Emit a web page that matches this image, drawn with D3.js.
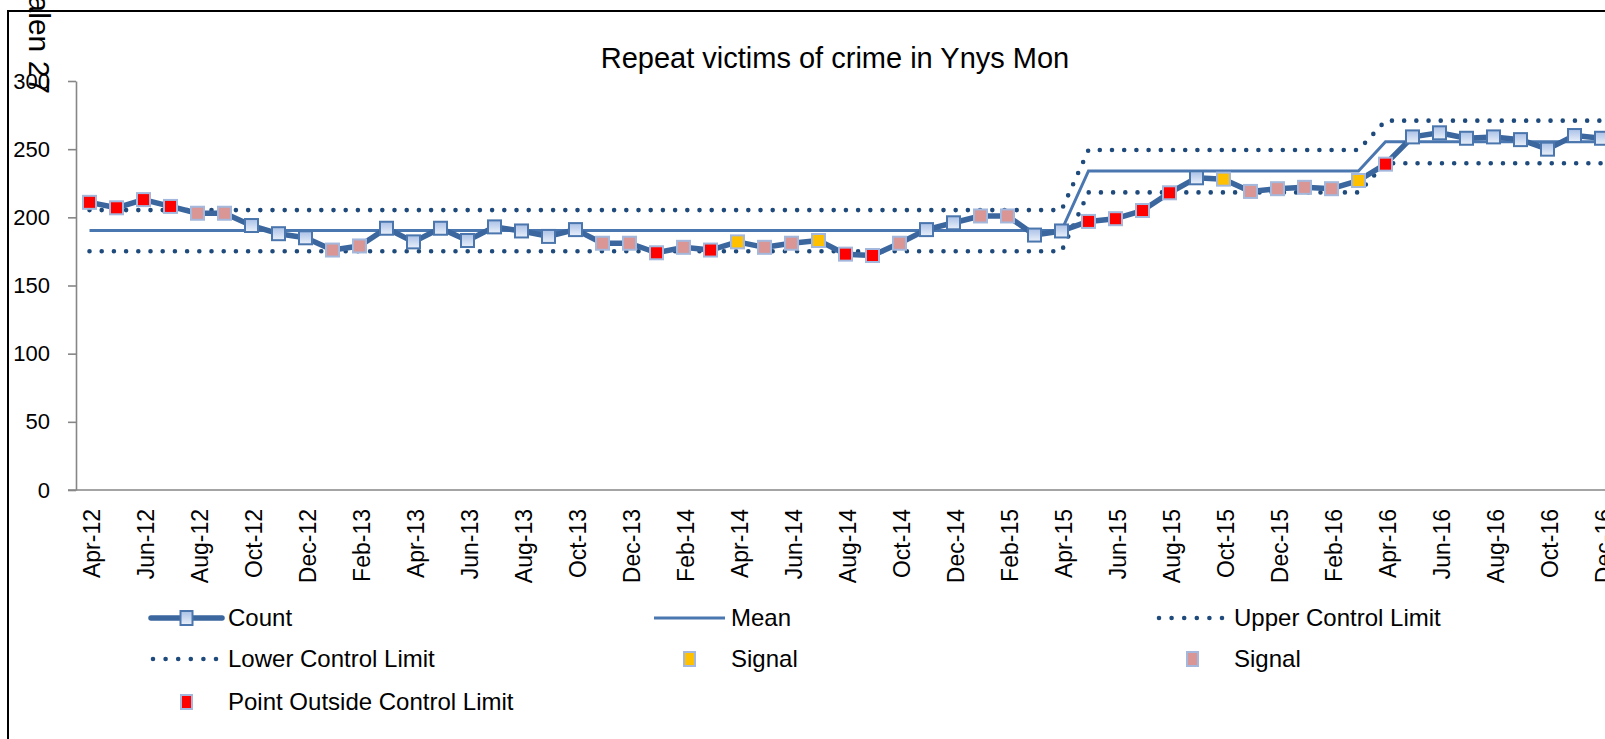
<!DOCTYPE html>
<html>
<head>
<meta charset="utf-8">
<script src="https://cdn.jsdelivr.net/npm/d3@7"></script>
<style>
  body { margin: 0; background: #fff; overflow: hidden; }
  text { font-family: "Liberation Sans", Arial, sans-serif; fill: #000; }
</style>
</head>
<body>
<div id="chart"></div>
<script>
// Monthly categories
const months = ["Apr-12","May-12","Jun-12","Jul-12","Aug-12","Sep-12","Oct-12","Nov-12","Dec-12",
  "Jan-13","Feb-13","Mar-13","Apr-13","May-13","Jun-13","Jul-13","Aug-13","Sep-13","Oct-13","Nov-13","Dec-13",
  "Jan-14","Feb-14","Mar-14","Apr-14","May-14","Jun-14","Jul-14","Aug-14","Sep-14","Oct-14","Nov-14","Dec-14",
  "Jan-15","Feb-15","Mar-15","Apr-15","May-15","Jun-15","Jul-15","Aug-15","Sep-15","Oct-15","Nov-15","Dec-15",
  "Jan-16","Feb-16","Mar-16","Apr-16","May-16","Jun-16","Jul-16","Aug-16","Sep-16","Oct-16","Nov-16","Dec-16"];

// Count of repeat victims
const counts = [211,207,213,208,203,203,194,188,185,
  176,179,192,182,192,183,193,190,186,191,181,181,
  174,178,176,182,178,181,183,173,172,181,191,196,
  201,201,187,190,197,199,205,218,229,228,219,221,
  222,221,227,239,259,262,258,259,257,250,260,258];

// N = normal, R = point outside control limit, Y = signal (yellow), P = signal (pink)
const flags = ["R","R","R","R","P","P","N","N","N",
  "P","P","N","N","N","N","N","N","N","N","P","P",
  "R","P","R","Y","P","P","Y","R","R","P","N","N",
  "P","P","N","N","R","R","R","R","N","Y","P","P",
  "P","P","Y","R","N","N","N","N","N","N","N","N"];

// Control chart phases (index where each phase starts)
const phaseStart = [0, 37, 48];
const phaseMean  = [190.3, 234, 255.5];
const phaseUcl   = [205.3, 249.4, 270.9];
const phaseLcl   = [175.1, 218.3, 239.7];

const yTicks = [0, 50, 100, 150, 200, 250, 300];

const legendItems = [
  {type: "count", label: "Count"},
  {type: "mean", label: "Mean"},
  {type: "ucl", label: "Upper Control Limit"},
  {type: "lcl", label: "Lower Control Limit"},
  {type: "Y", label: "Signal"},
  {type: "P", label: "Signal"},
  {type: "R", label: "Point Outside Control Limit"}
];

const flagColor = {R: "#FF0000", Y: "#FFC000", P: "#D99694"};

const W = 1605, H = 739;
const margin = {left: 76, top: 81, bottom: 490};
const step = 27;

const svg = d3.select("#chart").append("svg")
    .attr("width", W)
    .attr("height", H);

const defs = svg.append("defs");
const grad = defs.append("linearGradient")
    .attr("id", "markerGrad")
    .attr("x1", "0%").attr("y1", "0%")
    .attr("x2", "0%").attr("y2", "100%");
grad.append("stop").attr("offset", "0%").attr("stop-color", "#a9c0e6");
grad.append("stop").attr("offset", "100%").attr("stop-color", "#eaf0fa");

// build per-point table
const phaseOf = i => d3.bisectRight(phaseStart, i) - 1;
const data = months.map((m, i) => ({
  month: m,
  count: counts[i],
  flag: flags[i],
  mean: phaseMean[phaseOf(i)],
  ucl: phaseUcl[phaseOf(i)],
  lcl: phaseLcl[phaseOf(i)]
}));

// scales
const x = d3.scaleBand()
    .domain(months)
    .range([margin.left, margin.left + step * months.length]);
const cx = d => x(d.month) + x.bandwidth() / 2;

const y = d3.scaleLinear()
    .domain([0, 300])
    .range([margin.bottom, margin.top]);

// outer border
svg.append("rect")
    .attr("x", 8).attr("y", 11)
    .attr("width", 2000).attr("height", 2000)
    .attr("fill", "none")
    .attr("stroke", "#000")
    .attr("stroke-width", 2);

// page number text from the document
svg.append("text")
    .attr("transform", "translate(29,-55) rotate(90)")
    .style("font-size", "30px")
    .text("Tudalen 27");

// title
svg.append("text")
    .attr("x", 835).attr("y", 68)
    .attr("text-anchor", "middle")
    .style("font-size", "29px")
    .text("Repeat victims of crime in Ynys Mon");

// y axis
const yAxis = svg.append("g")
    .attr("transform", `translate(${margin.left},0)`)
    .call(d3.axisLeft(y).tickValues(yTicks).tickSize(8).tickSizeOuter(0).tickPadding(18));
yAxis.selectAll("path, line").attr("stroke", "#868686").attr("stroke-width", 1.6);
yAxis.selectAll("text").style("font-size", "22px").attr("fill", "#000");

// x axis
svg.append("line")
    .attr("x1", margin.left - 8)
    .attr("x2", x.range()[1])
    .attr("y1", y(0)).attr("y2", y(0))
    .attr("stroke", "#868686")
    .attr("stroke-width", 1.6);

const xAxis = svg.append("g")
    .attr("transform", `translate(0,${y(0)})`)
    .call(d3.axisBottom(x).tickValues(months.filter((d, i) => i % 2 === 0)).tickSize(0));
xAxis.select(".domain").remove();
xAxis.selectAll("text")
    .attr("transform", "rotate(-90)")
    .attr("text-anchor", "end")
    .attr("x", -19)
    .attr("y", 0)
    .attr("dy", "0.45em")
    .style("font-size", "23px")
    .attr("fill", "#000");

const line = key => d3.line().x(cx).y(d => y(d[key]));

// control limits
["ucl", "lcl"].forEach(k => {
  svg.append("path")
      .datum(data)
      .attr("d", line(k))
      .attr("fill", "none")
      .attr("stroke", "#1f4a7c")
      .attr("stroke-width", 4.6)
      .attr("stroke-linecap", "round")
      .attr("stroke-dasharray", "0,12.2");
});

// mean
svg.append("path")
    .datum(data)
    .attr("d", line("mean"))
    .attr("fill", "none")
    .attr("stroke", "#4a77b0")
    .attr("stroke-width", 3);

// count
svg.append("path")
    .datum(data)
    .attr("d", line("count"))
    .attr("fill", "none")
    .attr("stroke", "#3b679e")
    .attr("stroke-width", 5.5)
    .attr("stroke-linejoin", "round");

function drawMarker(g, px, py, flag, w, h) {
  g.append("rect")
      .attr("x", px - w / 2).attr("y", py - h / 2)
      .attr("width", w).attr("height", h)
      .attr("fill", flag === "N" ? "url(#markerGrad)" : flagColor[flag])
      .attr("stroke", flag === "N" ? "#4a76ad" : "#a3b8dc")
      .attr("stroke-width", 2);
}

const markers = svg.append("g");
data.forEach(d => drawMarker(markers, cx(d), y(d.count), d.flag, 13, 13));

// legend
const legendCols = [151, 654, 1157];
const legendRows = [618, 659, 702];
const symW = 71;
const legend = svg.append("g");
legendItems.forEach((item, i) => {
  const lx = legendCols[i % 3], ly = legendRows[Math.floor(i / 3)];
  const g = legend.append("g");
  if (item.type === "count") {
    g.append("line").attr("x1", lx).attr("x2", lx + symW).attr("y1", ly).attr("y2", ly)
        .attr("stroke", "#3b679e").attr("stroke-width", 5.5).attr("stroke-linecap", "round");
    drawMarker(g, lx + symW / 2, ly, "N", 12, 14);
  } else if (item.type === "mean") {
    g.append("line").attr("x1", lx).attr("x2", lx + symW).attr("y1", ly).attr("y2", ly)
        .attr("stroke", "#4a77b0").attr("stroke-width", 3);
  } else if (item.type === "ucl" || item.type === "lcl") {
    g.append("line").attr("x1", lx + 2).attr("x2", lx + symW - 2).attr("y1", ly).attr("y2", ly)
        .attr("stroke", "#1f4a7c").attr("stroke-width", 4.6)
        .attr("stroke-linecap", "round").attr("stroke-dasharray", "0,12.6");
  } else {
    drawMarker(g, lx + symW / 2, ly, item.type, 11, 14);
  }
  g.append("text")
      .attr("x", lx + symW + 6)
      .attr("y", ly + 8)
      .style("font-size", "24px")
      .text(item.label);
});
</script>
</body>
</html>
